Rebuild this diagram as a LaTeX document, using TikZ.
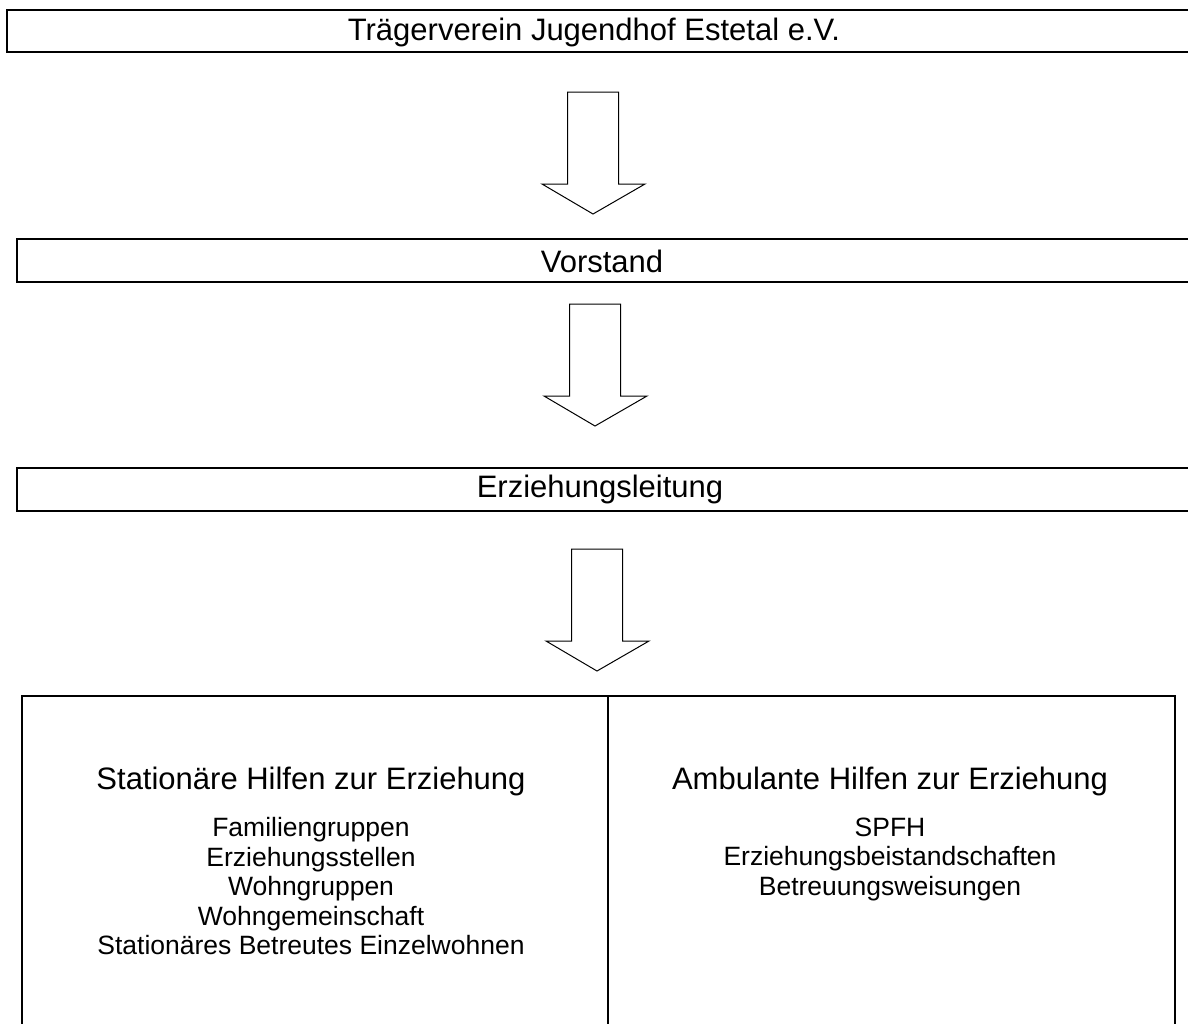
\documentclass[tikz,border=0pt]{standalone}
\usepackage{fontspec}
\setmainfont{Liberation Sans}
\usepackage{tikz}
\usetikzlibrary{calc}

\begin{document}
\begin{tikzpicture}[x=1pt,y=-1pt,
    bigtext/.style={font=\fontsize{31}{37}\selectfont},
    smalltext/.style={font=\fontsize{26.5}{29.5}\selectfont,align=center},
    barline/.style={line width=1.6pt},
    blockarrow/.style={line width=1pt,line join=miter}]
    \clip (0,0) rectangle (1188,1023);
    \draw[barline] (7,10) rectangle (1200,52);
    \draw[barline] (17,239) rectangle (1200,282);
    \draw[barline] (17,468) rectangle (1200,511);
    \draw[barline] (22,696) rectangle (1175,1040);
    \draw[barline] (608,696) -- (608,1040);
    \node[bigtext] (traeger) at (594,32) {Trägerverein Jugendhof Estetal e.V.};
    \node[bigtext] (vorstand) at (602,261) {Vorstand};
    \node[bigtext] (leitung) at (600,489) {Erziehungsleitung};
    \foreach \x/\y in {593/92,595/304,597/549}
      \draw[blockarrow] (\x-25.5,\y) -- (\x+25.5,\y) -- (\x+25.5,\y+92) -- (\x+52,\y+92)
        -- (\x,\y+122) -- (\x-51,\y+92) -- (\x-25.5,\y+92) -- cycle;
    \node[bigtext] (stationaer) at (311,781) {Stationäre Hilfen zur Erziehung};
    \node[bigtext] (ambulant) at (890,781) {Ambulante Hilfen zur Erziehung};
    \node[smalltext,anchor=north] (statliste) at (stationaer.south |- 0,814) {Familiengruppen\\Erziehungsstellen\\Wohngruppen\\Wohngemeinschaft\\Stationäres Betreutes Einzelwohnen};
    \node[smalltext,anchor=north] (ambliste) at (ambulant.south |- 0,814) {SPFH\\Erziehungsbeistandschaften\\Betreuungsweisungen};
\end{tikzpicture}
\end{document}
